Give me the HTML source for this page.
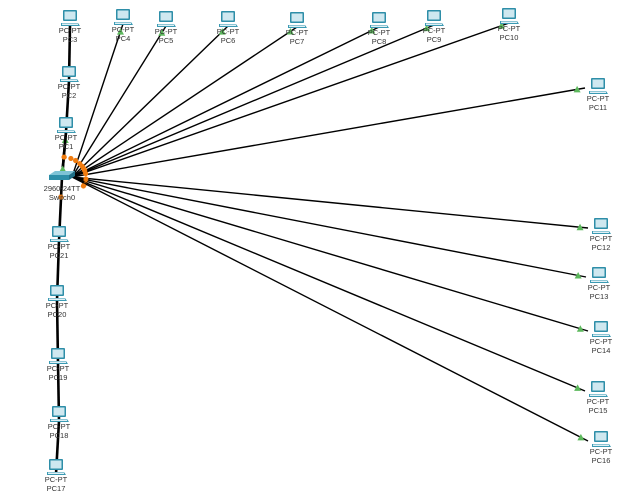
<!DOCTYPE html>
<html><head><meta charset="utf-8"><style>
html,body{margin:0;padding:0;background:#fff;width:639px;height:496px;overflow:hidden}
svg text{font-family:"Liberation Sans",sans-serif;font-size:7.5px;fill:#333;text-anchor:middle}
</style></head><body>
<svg id="net" width="639" height="496" viewBox="0 0 639 496" xmlns="http://www.w3.org/2000/svg"></svg>
<script>
const names=["PC3","PC4","PC5","PC6","PC7","PC8","PC9","PC10","PC11","PC2","PC1","PC21","PC20","PC19","PC18","PC17","PC12","PC13","PC14","PC15","PC16"];
const nodeX=[70,123,166,228,297,379,434,509,598,69,66,59,57,58,59,56,601,599,601,598,601];
const nodeY=[17,16,18,18,19,19,17,15,85,73,124,233,292,355,413,466,225,274,328,388,438];
const linkFrom=[-1,-1,-1,-1,-1,-1,-1,-1,-1,-1,-1,-1,-1,-1,0,9,10,-1,11,12,13,14];
const linkTo=[1,2,3,4,5,6,7,8,16,17,18,19,20,10,9,10,-1,11,12,13,14,15];
const sw={x:62,y:177};
const svg=document.getElementById('net');
const NS="http://www.w3.org/2000/svg";
function mk(t,a){const e=document.createElementNS(NS,t);for(const k in a)e.setAttribute(k,a[k]);return e;}
function pos(i){
  if(i<0)return {x:sw.x,y:sw.y};
  if(nodeX[i]>550)return {x:nodeX[i]-13,y:nodeY[i]+3};
  return {x:nodeX[i],y:nodeY[i]+8};
}
const gl=mk('g',{});


svg.appendChild(gl);
for(let k=0;k<linkFrom.length;k++){
  const a=pos(linkFrom[k]),b=pos(linkTo[k]);
  const chain=(linkFrom[k]>=9||linkFrom[k]===0||(linkFrom[k]===-1&&linkTo[k]===11)||(linkFrom[k]===-1&&linkTo[k]===10));
  let ax=a.x,ay=a.y;
  if(linkFrom[k]===-1&&!chain){ax=sw.x+10;ay=sw.y;}
  const l=mk('line',{x1:ax,y1:ay,x2:b.x,y2:b.y,stroke:'#000','stroke-width':chain?2.6:1.4});
  
  
  gl.appendChild(l);
  const dx=b.x-ax,dy=b.y-ay,len=Math.hypot(dx,dy)||1;
  const d=Math.min(8,len*0.3);
  const gx=b.x-dx/len*d, gy=b.y-dy/len*d;
  const tri=mk('polygon',{points:`${gx-3.5},${gy+3} ${gx+3.5},${gy+3} ${gx},${gy-3.5}`,fill:'#5cb85c'});
  
  
  gl.appendChild(tri);
  if(linkFrom[k]===-1||linkTo[k]===-1){
    const o=linkTo[k]===-1?a:b;
    const ddx=o.x-sw.x,ddy=o.y-sw.y,ll=Math.hypot(ddx,ddy)||1;
    const c=mk('circle',{cx:sw.x+ddx/ll*24,cy:sw.y+ddy/ll*20,r:2.6,fill:'#f07c10'});
    
    
    gl.appendChild(c);
  }
}
function pc(i){
  const g=mk('g',{transform:`translate(${nodeX[i]},${nodeY[i]})`});
  
  
  g.appendChild(mk('rect',{x:-7,y:-7,width:14,height:11,fill:'#2e8ea8',rx:1}));
  g.appendChild(mk('rect',{x:-5.5,y:-5.5,width:11,height:8,fill:'#cfe8f0'}));
  g.appendChild(mk('polygon',{points:'-9,6 8,6 10,9 -9,9',fill:'#3a9ab3'}));
  g.appendChild(mk('rect',{x:-8,y:6.5,width:16,height:1.5,fill:'#e0f0f5'}));
  const t1=mk('text',{x:0,y:16});t1.textContent='PC-PT';
  
  
  const t2=mk('text',{x:0,y:25});t2.textContent=names[i];
  
  
  g.appendChild(t1);g.appendChild(t2);
  svg.appendChild(g);
}
for(let i=0;i<names.length;i++)pc(i);
const s=mk('g',{transform:`translate(${sw.x},${sw.y})`});


s.appendChild(mk('polygon',{points:'-13,-2 -7,-6 13,-6 7,-2',fill:'#7fc3d6'}));
s.appendChild(mk('rect',{x:-13,y:-2,width:20,height:5,fill:'#2e8ea8'}));
s.appendChild(mk('polygon',{points:'7,-2 13,-6 13,-1 7,3',fill:'#1f6f86'}));
const a1=mk('text',{x:0,y:14});a1.textContent='2960-24TT';


const a2=mk('text',{x:0,y:23});a2.textContent='Switch0';


s.appendChild(a1);s.appendChild(a2);
svg.appendChild(s);
</script>
</body></html>
